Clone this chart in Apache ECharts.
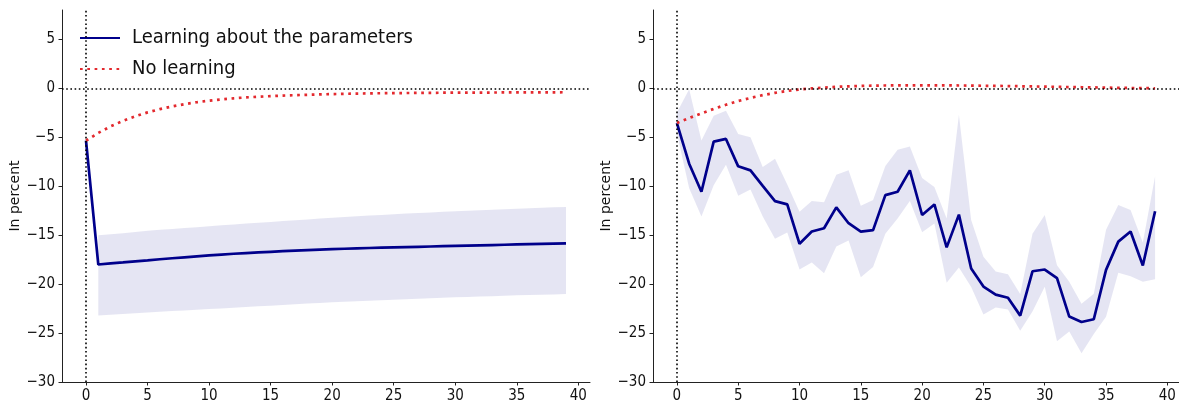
<!DOCTYPE html>
<html>
<head>
<meta charset="utf-8">
<script src="https://cdn.jsdelivr.net/npm/echarts@6/dist/echarts.min.js"></script>
<style>
  html, body { margin: 0; padding: 0; background: #fff; }
  #chart { width: 1179px; height: 404px; }
</style>
</head>
<body>
<div id="chart"></div>
<script>
// Horizons 0..39
const horizons = Array.from({ length: 40 }, (_, i) => i);

// Left panel: responses with learning about the parameters (median + band) and without learning
const leftLearning = [-5.35, -18.0, -17.88, -17.78, -17.67, -17.57, -17.46, -17.36, -17.26, -17.16,
  -17.06, -16.98, -16.9, -16.83, -16.76, -16.7, -16.64, -16.58, -16.53, -16.48,
  -16.43, -16.39, -16.35, -16.31, -16.28, -16.25, -16.22, -16.19, -16.16, -16.13,
  -16.1, -16.07, -16.04, -16.01, -15.98, -15.95, -15.92, -15.89, -15.86, -15.83];
const leftUpper = [null, -15.0, -14.9, -14.8, -14.68, -14.56, -14.46, -14.36, -14.27, -14.18,
  -14.1, -14.0, -13.91, -13.82, -13.73, -13.65, -13.56, -13.48, -13.4, -13.3,
  -13.22, -13.15, -13.08, -13.0, -12.93, -12.86, -12.8, -12.74, -12.68, -12.62,
  -12.56, -12.5, -12.45, -12.4, -12.35, -12.3, -12.26, -12.21, -12.16, -12.12];
const leftLower = [null, -23.2, -23.13, -23.06, -22.98, -22.9, -22.83, -22.76, -22.69, -22.62,
  -22.55, -22.48, -22.41, -22.34, -22.27, -22.2, -22.13, -22.06, -21.99, -21.92,
  -21.85, -21.8, -21.75, -21.7, -21.65, -21.6, -21.55, -21.5, -21.45, -21.4,
  -21.35, -21.31, -21.27, -21.23, -21.19, -21.15, -21.12, -21.09, -21.05, -21.02];
const leftNoLearning = [-5.35, -4.56, -3.89, -3.33, -2.86, -2.46, -2.13, -1.85, -1.62, -1.42,
  -1.26, -1.13, -1.02, -0.93, -0.86, -0.8, -0.74, -0.7, -0.66, -0.62,
  -0.59, -0.56, -0.54, -0.52, -0.5, -0.49, -0.48, -0.47, -0.46, -0.45,
  -0.44, -0.44, -0.43, -0.43, -0.42, -0.42, -0.41, -0.41, -0.41, -0.4];

// Right panel
const rightLearning = [-3.55, -7.7, -10.57, -5.44, -5.17, -7.97, -8.38, -9.97, -11.52, -11.86,
  -15.88, -14.63, -14.29, -12.16, -13.78, -14.63, -14.49, -10.91, -10.57, -8.38,
  -12.94, -11.86, -16.25, -12.9, -18.41, -20.25, -21.07, -21.39, -23.22, -18.69,
  -18.51, -19.38, -23.32, -23.87, -23.59, -18.55, -15.66, -14.62, -18.1, -12.56];
const rightUpper = [-2.47, -0.1, -5.34, -2.8, -2.3, -4.66, -5.0, -8.04, -7.2, -9.83,
  -12.6, -11.5, -11.65, -8.82, -8.38, -12.0, -11.4, -7.94, -6.28, -5.95,
  -9.16, -10.07, -13.3, -2.7, -13.45, -17.2, -18.7, -19.0, -21.0, -14.86,
  -12.94, -18.07, -19.76, -22.0, -20.98, -14.46, -11.93, -12.43, -15.74, -8.99];
const rightLower = [-4.6, -10.2, -13.1, -9.9, -7.8, -10.98, -10.34, -13.1, -15.37, -14.73,
  -18.5, -17.8, -18.9, -16.15, -15.54, -19.3, -18.24, -14.86, -13.3, -11.5,
  -14.7, -13.8, -19.86, -18.3, -20.3, -23.1, -22.4, -22.6, -24.76, -22.8,
  -20.27, -25.84, -24.83, -27.06, -25.1, -23.34, -18.85, -19.19, -19.76, -19.5];
const rightNoLearning = [-3.55, -3.04, -2.56, -2.1, -1.68, -1.3, -0.98, -0.7, -0.46, -0.27,
  -0.12, -0.01, 0.08, 0.15, 0.2, 0.24, 0.27, 0.29, 0.3, 0.31,
  0.31, 0.3, 0.3, 0.29, 0.28, 0.26, 0.25, 0.23, 0.21, 0.19,
  0.17, 0.15, 0.13, 0.11, 0.09, 0.07, 0.05, 0.03, 0.02, 0.0];

// Axis tick values
const xTicks = [0, 5, 10, 15, 20, 25, 30, 35, 40];
const yTicks = [-30, -25, -20, -15, -10, -5, 0, 5];

const FONT = '"DejaVu Sans Condensed", "DejaVu Sans", sans-serif';
const NAVY = '#00008b';
const RED = '#e3292e';
const BAND = 'rgba(0,0,139,0.1)';

const pairs = (ys) => horizons.map((x, i) => [x, ys[i]]);
const minus = (v) => String(v).replace('-', '\u2212');

function xAxis(gridIndex) {
  return {
    type: 'value', gridIndex, min: -1.95, max: 40.95,
    splitLine: { show: false },
    axisLine: { show: true, onZero: false, lineStyle: { color: '#222', width: 1 } },
    axisTick: { show: true, customValues: xTicks, length: 3.5, lineStyle: { color: '#222', width: 1 } },
    axisLabel: { customValues: xTicks, color: '#111', fontFamily: FONT, fontSize: 15, margin: 7, formatter: minus }
  };
}
function yAxis(gridIndex) {
  return {
    type: 'value', gridIndex, min: -30, max: 8,
    name: 'In percent', nameLocation: 'middle', nameGap: 36,
    nameTextStyle: { color: '#111', fontFamily: 'DejaVu Sans', fontSize: 14 },
    splitLine: { show: false },
    axisLine: { show: true, onZero: false, lineStyle: { color: '#222', width: 1 } },
    axisTick: { show: true, customValues: yTicks, length: 3.5, lineStyle: { color: '#222', width: 1 } },
    axisLabel: {
      customValues: yTicks, color: '#111', fontFamily: FONT, fontSize: 15, margin: 7,
      padding: [4, 0, 0, 0], formatter: minus
    }
  };
}

// Shaded band between upper and lower bounds, placed through the axis scales
function bandSeries(idx, upper, lower) {
  return {
    type: 'custom', xAxisIndex: idx, yAxisIndex: idx, data: [[0, 0]], silent: true, z: 1,
    renderItem: (params, api) => {
      const pts = [];
      horizons.forEach((x, i) => { if (upper[i] != null) pts.push(api.coord([x, upper[i]])); });
      for (let i = horizons.length - 1; i >= 0; i--) {
        if (lower[i] != null) pts.push(api.coord([horizons[i], lower[i]]));
      }
      return { type: 'polygon', shape: { points: pts }, style: { fill: BAND } };
    }
  };
}

function panelSeries(idx, learning, upper, lower, noLearning, withNames) {
  return [
    bandSeries(idx, upper, lower),
    {
      // zero reference lines
      type: 'line', xAxisIndex: idx, yAxisIndex: idx, data: [], z: 2,
      markLine: {
        silent: true, symbol: 'none', label: { show: false },
        lineStyle: { color: '#000', width: 1.6, type: [1.6, 2.6] },
        data: [{ yAxis: 0 }, { xAxis: 0 }]
      }
    },
    {
      name: withNames ? 'Learning about the parameters' : undefined,
      type: 'line', xAxisIndex: idx, yAxisIndex: idx, data: pairs(learning),
      symbol: 'none', lineStyle: { color: NAVY, width: 2.7 }, itemStyle: { color: NAVY }, z: 3
    },
    {
      name: withNames ? 'No learning' : undefined,
      type: 'line', xAxisIndex: idx, yAxisIndex: idx, data: pairs(noLearning),
      symbol: 'none', lineStyle: { color: RED, width: 2.7, type: [2.7, 4.6] }, itemStyle: { color: RED }, z: 4
    }
  ];
}

const chart = echarts.init(document.getElementById('chart'), null, { renderer: 'canvas' });
chart.setOption({
  animation: false,
  backgroundColor: '#fff',
  grid: [
    { left: 62, top: 10, width: 528, height: 374 },
    { left: 653, top: 10, width: 528, height: 374 }
  ],
  xAxis: [xAxis(0), xAxis(1)],
  yAxis: [yAxis(0), yAxis(1)],
  legend: {
    data: ['Learning about the parameters', 'No learning'],
    orient: 'vertical', left: 79, top: 28, padding: 0,
    itemWidth: 40, itemHeight: 14, itemGap: 11,
    itemStyle: { opacity: 0 },
    textStyle: { color: '#111', fontFamily: FONT, fontSize: 20, padding: [0, 0, 0, 7] }
  },
  series: [
    ...panelSeries(0, leftLearning, leftUpper, leftLower, leftNoLearning, true),
    ...panelSeries(1, rightLearning, rightUpper, rightLower, rightNoLearning, false)
  ]
});
</script>
</body>
</html>
